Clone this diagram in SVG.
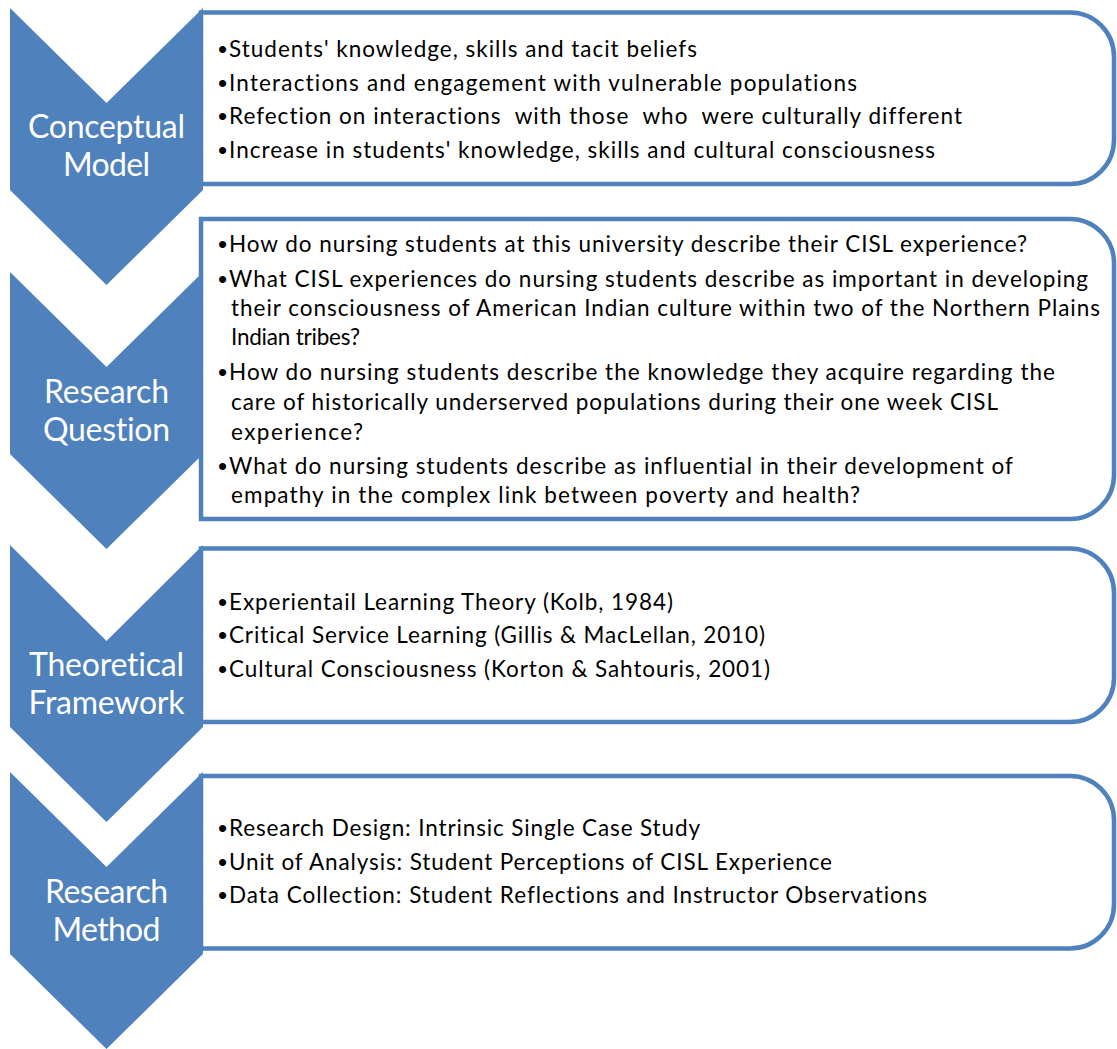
<svg xmlns="http://www.w3.org/2000/svg" width="1117" height="1049" viewBox="0 0 1117 1049">
<style>
.box{fill:#FFFFFF;stroke:#4F81BD;stroke-width:4.5}
.chev{fill:#4F81BD}
.lbl{font-family:Lato,"Liberation Sans",sans-serif;font-size:32px;fill:#FFFFFF;text-anchor:middle;font-variant-ligatures:none}
.txt{font-family:Lato,"Liberation Sans",sans-serif;font-size:22.5px;fill:#000000;font-variant-ligatures:none}
.bul{font-family:"Liberation Sans",sans-serif;font-size:26px;fill:#000000}
</style>
<rect width="1117" height="1049" fill="#FFFFFF"/>
<g id="connectors"/>
<g id="step1">
<path class="box" d="M201,12.5 H1070 A44,44 0 0 1 1114,56.5 V140 A44,44 0 0 1 1070,184 H201 Z"/>
<polygon class="chev" points="10,8 106.5,103 203,8 203,190 106.5,285 10,190"/>
<text class="lbl" x="106.5" y="138" textLength="157">Conceptual</text>
<text class="lbl" x="106.5" y="176" textLength="87">Model</text>
<text class="bul" x="218" y="57.5">•</text><text class="txt" x="229" y="56.5" textLength="468">Students' knowledge, skills and tacit beliefs</text>
<text class="bul" x="218" y="91.5">•</text><text class="txt" x="229" y="90.5" textLength="628">Interactions and engagement with vulnerable populations</text>
<text class="bul" x="218" y="125">•</text><text class="txt" x="229" y="124" textLength="733" xml:space="preserve">Refection on interactions  with those  who  were culturally different</text>
<text class="bul" x="218" y="159">•</text><text class="txt" x="229" y="158" textLength="706">Increase in students' knowledge, skills and cultural consciousness</text>
</g>
<g id="step2">
<path class="box" d="M201,219 H1070 A44,44 0 0 1 1114,263 V475 A44,44 0 0 1 1070,519 H201 Z"/>
<polygon class="chev" points="10,272 106.5,367 203,272 203,454 106.5,549 10,454"/>
<text class="lbl" x="106.5" y="402.5" textLength="125">Research</text>
<text class="lbl" x="106.5" y="440.5" textLength="127">Question</text>
<text class="bul" x="218" y="253">•</text><text class="txt" x="229" y="252" textLength="798">How do nursing students at this university describe their CISL experience?</text>
<text class="bul" x="218" y="288">•</text><text class="txt" x="229" y="287" textLength="859">What CISL experiences do nursing students describe as important in developing</text>
<text class="txt" x="231" y="316" textLength="869">their consciousness of American Indian culture within two of the Northern Plains</text>
<text class="txt" x="231" y="345" textLength="129">Indian tribes?</text>
<text class="bul" x="218" y="381">•</text><text class="txt" x="229" y="380" textLength="826">How do nursing students describe the knowledge they acquire regarding the</text>
<text class="txt" x="231" y="410" textLength="767">care of historically underserved populations during their one week CISL</text>
<text class="txt" x="231" y="440" textLength="132">experience?</text>
<text class="bul" x="218" y="475">•</text><text class="txt" x="229" y="474" textLength="784">What do nursing students describe as influential in their development of</text>
<text class="txt" x="231" y="503" textLength="629">empathy in the complex link between poverty and health?</text>
</g>
<g id="step3">
<path class="box" d="M201,548.5 H1070 A44,44 0 0 1 1114,592.5 V678 A44,44 0 0 1 1070,722 H201 Z"/>
<polygon class="chev" points="10,545 106.5,641 203,545 203,727 106.5,822 10,727"/>
<text class="lbl" x="106.5" y="675.5" textLength="155">Theoretical</text>
<text class="lbl" x="106.5" y="713.5" textLength="156">Framework</text>
<text class="bul" x="218" y="611">•</text><text class="txt" x="229" y="610" textLength="444">Experientail Learning Theory (Kolb, 1984)</text>
<text class="bul" x="218" y="644">•</text><text class="txt" x="229" y="643" textLength="536">Critical Service Learning (Gillis &amp; MacLellan, 2010)</text>
<text class="bul" x="218" y="678">•</text><text class="txt" x="229" y="677" textLength="541">Cultural Consciousness (Korton &amp; Sahtouris, 2001)</text>
</g>
<g id="step4">
<path class="box" d="M201,776 H1070 A44,44 0 0 1 1114,820 V904.5 A44,44 0 0 1 1070,948.5 H201 Z"/>
<polygon class="chev" points="10,772 106.5,867 203,772 203,954 106.5,1049 10,954"/>
<text class="lbl" x="106.5" y="902.5" textLength="123">Research</text>
<text class="lbl" x="106.5" y="940.5" textLength="108">Method</text>
<text class="bul" x="218" y="837">•</text><text class="txt" x="229" y="836" textLength="471">Research Design: Intrinsic Single Case Study</text>
<text class="bul" x="218" y="871">•</text><text class="txt" x="229" y="870" textLength="603">Unit of Analysis: Student Perceptions of CISL Experience</text>
<text class="bul" x="218" y="904">•</text><text class="txt" x="229" y="903" textLength="698">Data Collection: Student Reflections and Instructor Observations</text>
</g>
</svg>
